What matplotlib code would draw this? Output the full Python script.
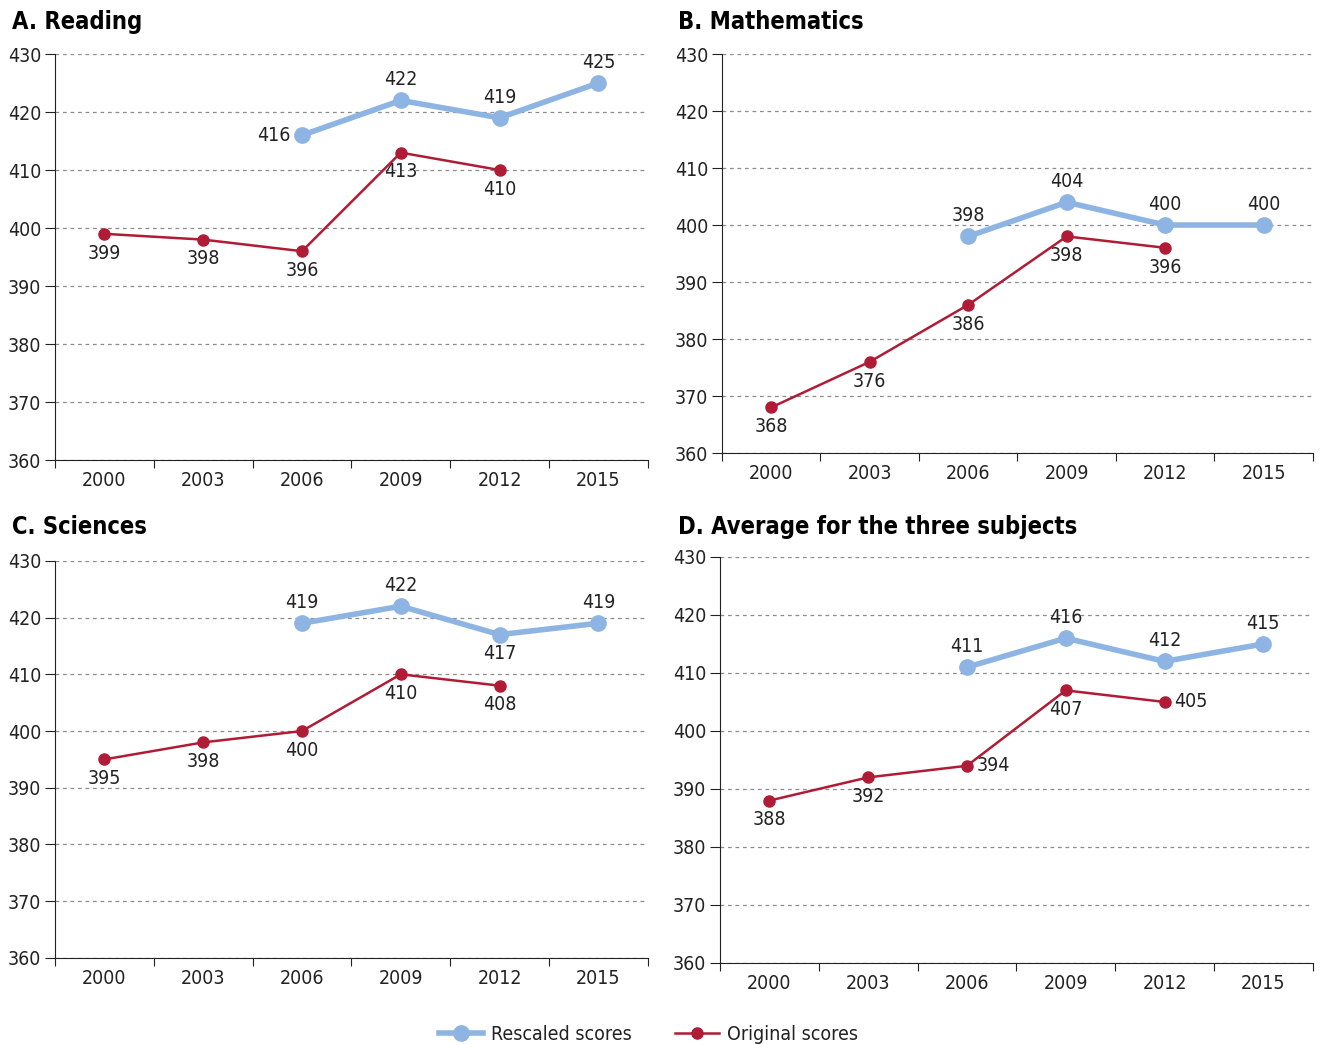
import numpy as np
import matplotlib.pyplot as plt
from matplotlib.lines import Line2D

plt.rcParams['font.family'] = ['DejaVu Sans']
plt.rcParams['font.stretch'] = 'condensed'

years = ['2000', '2003', '2006', '2009', '2012', '2015']

# rescaled scores (2006-2015)
read_resc = [416, 422, 419, 425]
math_resc = [398, 404, 400, 400]
sci_resc = [419, 422, 417, 419]
avg_resc = [411, 416, 412, 415]

# original scores (2000-2012)
read_orig = [399, 398, 396, 413, 410]
math_orig = [368, 376, 386, 398, 396]
sci_orig = [395, 398, 400, 410, 408]
avg_orig = [388, 392, 394, 407, 405]

titles = ['A. Reading', 'B. Mathematics', 'C. Sciences', 'D. Average for the three subjects']

# label placement: 'a' above, 'b' below, 'l' left, 'r' right
resc_pos = [['l', 'a', 'a', 'a'], ['a', 'a', 'a', 'a'], ['a', 'a', 'b', 'a'], ['a', 'a', 'a', 'a']]
orig_pos = [['b'] * 5, ['b'] * 5, ['b'] * 5, ['b', 'b', 'r', 'b', 'r']]

blue = '#8db4e2'
red = '#b01c35'
txt = '#222222'

fig = plt.figure(figsize=(13.23, 10.45), dpi=100)
rects = [
    [0.0416, 0.5598, 0.448, 0.3885],
    [0.5457, 0.5665, 0.4467, 0.3818],
    [0.0416, 0.0833, 0.448, 0.3800],
    [0.5442, 0.0785, 0.448, 0.3885],
]
title_xy = [(12, 22), (678, 22), (12, 527), (678, 527)]

offsets = {'a': (0, 8, 'center', 'bottom'), 'b': (0, -7, 'center', 'top'),
           'l': (-8, 0, 'right', 'center'), 'r': (7, 0, 'left', 'center')}


def label(ax, x, y, pos):
    dx, dy, ha, va = offsets[pos]
    ax.annotate(str(y), (x, y), xytext=(dx, dy), textcoords='offset points',
                ha=ha, va=va, fontsize=14, color=txt)


for i, (resc, orig) in enumerate([(read_resc, read_orig), (math_resc, math_orig),
                                  (sci_resc, sci_orig), (avg_resc, avg_orig)]):
    ax = fig.add_axes(rects[i])
    xr = np.arange(2, 6)
    xo = np.arange(0, 5)
    ax.plot(xr, resc, color=blue, lw=4, marker='o', ms=11, zorder=3)
    ax.plot(xo, orig, color=red, lw=1.8, marker='o', ms=8, zorder=4)
    for x, y, p in zip(xr, resc, resc_pos[i]):
        label(ax, x, y, p)
    for x, y, p in zip(xo, orig, orig_pos[i]):
        label(ax, x, y, p)

    ax.set_xlim(-0.5, 5.5)
    ax.set_ylim(360, 430)
    ax.set_yticks(np.arange(360, 431, 10))
    ax.set_xticks(np.arange(-0.5, 5.6, 1))
    ax.set_xticklabels([])
    ax.set_xticks(np.arange(6), minor=True)
    ax.set_xticklabels(years, minor=True)
    ax.tick_params(axis='x', which='minor', length=0, pad=8, labelsize=14, labelcolor=txt)
    ax.tick_params(axis='x', which='major', length=6, direction='out', color=txt)
    ax.tick_params(axis='y', length=7, direction='out', labelsize=14, pad=3,
                   color=txt, labelcolor=txt)
    ax.grid(axis='y', linestyle=(0, (3, 3)), color='#8c8c8c', lw=0.9)
    ax.set_axisbelow(True)
    for s in ['top', 'right']:
        ax.spines[s].set_visible(False)
    ax.spines['left'].set_color(txt)
    ax.spines['bottom'].set_color(txt)
    tx, ty = title_xy[i]
    fig.text(tx / 1323, 1 - ty / 1045, titles[i], fontsize=17, fontweight='heavy',
             ha='left', va='center')

handles = [Line2D([], [], color=blue, lw=4, marker='o', ms=11),
           Line2D([], [], color=red, lw=1.8, marker='o', ms=8)]
fig.legend(handles, ['Rescaled scores', 'Original scores'], loc='center',
           bbox_to_anchor=(0.49, 1 - 1034 / 1045), ncol=2, frameon=False,
           fontsize=14, handlelength=2.3, columnspacing=2.2, handletextpad=0.4,
           labelcolor=txt)

fig.savefig('out.png', dpi=100)
